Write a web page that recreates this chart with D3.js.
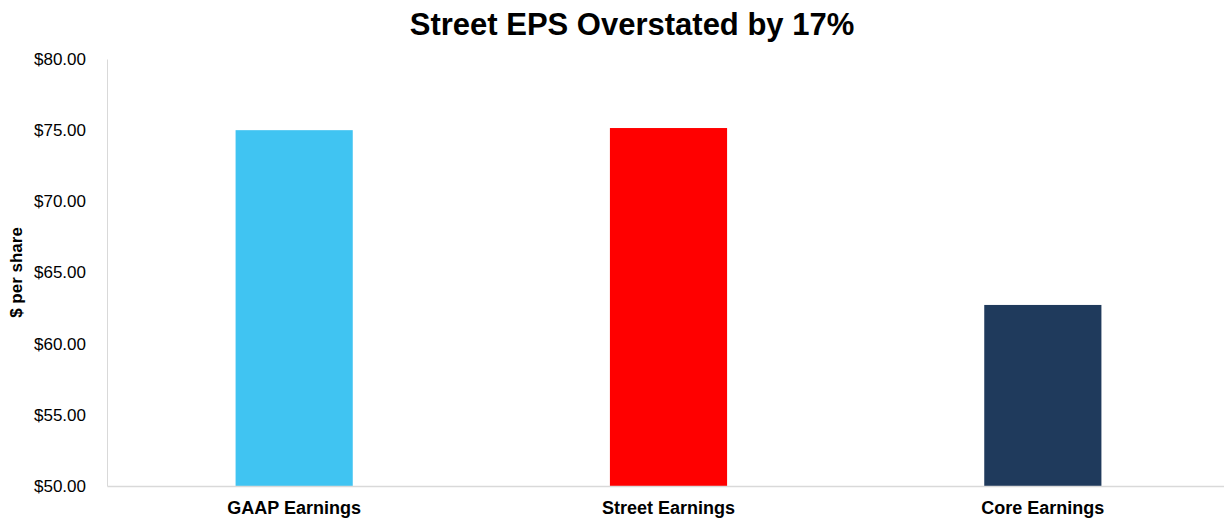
<!DOCTYPE html>
<html>
<head>
<meta charset="utf-8">
<script src="https://cdn.jsdelivr.net/npm/d3@7/dist/d3.min.js"></script>
<style>
  html, body { margin: 0; padding: 0; background: #fff; }
  svg { display: block; font-family: "Liberation Sans", Arial, sans-serif; }
</style>
</head>
<body>
<svg id="chart" width="1224" height="520"></svg>
<script>
// Earnings per share by measure
const categories = ["GAAP Earnings", "Street Earnings", "Core Earnings"];
const eps = [75.00, 75.15, 62.72];
const barColors = ["#40C4F2", "#FF0000", "#1F3A5C"];
const yTicks = [50, 55, 60, 65, 70, 75, 80];

const svg = d3.select("#chart");
const W = 1224, H = 520;
const margin = { left: 107, right: -6, top: 59, bottom: 34 };

const x = d3.scaleBand()
  .domain(categories)
  .range([margin.left, W - margin.right])
  .paddingInner(0.687)
  .paddingOuter(0.3435);

const y = d3.scaleLinear()
  .domain([50, 80])
  .range([H - margin.bottom, margin.top]);

// Title
svg.append("text")
  .attr("x", 632)
  .attr("y", 35)
  .attr("text-anchor", "middle")
  .attr("font-size", 31)
  .attr("font-weight", "bold")
  .attr("fill", "#000")
  .text("Street EPS Overstated by 17%");

// Bars
svg.append("g").selectAll("rect")
  .data(categories)
  .join("rect")
  .attr("x", d => x(d))
  .attr("width", x.bandwidth())
  .attr("y", (d, i) => y(eps[i]))
  .attr("height", (d, i) => y(50) - y(eps[i]))
  .attr("fill", (d, i) => barColors[i]);

// Y axis
const yAxis = svg.append("g")
  .attr("transform", `translate(${margin.left},0)`)
  .call(d3.axisLeft(y).tickValues(yTicks).tickSize(0).tickPadding(21)
    .tickFormat(d => "$" + d3.format(".2f")(d)));
yAxis.select(".domain").attr("stroke", "#D9D9D9").attr("stroke-width", 1);
yAxis.selectAll("text")
  .attr("font-size", 17)
  .attr("fill", "#000")
  .attr("font-family", "Liberation Sans, Arial, sans-serif");

// X axis
const xAxis = svg.append("g")
  .attr("transform", `translate(0,${y(50)})`)
  .call(d3.axisBottom(x).tickSize(0).tickPadding(15));
xAxis.select(".domain").attr("stroke", "#D9D9D9").attr("stroke-width", 1.5);
xAxis.selectAll("text")
  .attr("font-size", 18)
  .attr("font-weight", "bold")
  .attr("fill", "#000")
  .attr("font-family", "Liberation Sans, Arial, sans-serif");

// Y axis title
svg.append("text")
  .attr("transform", `translate(22,${(y(50) + y(80)) / 2}) rotate(-90)`)
  .attr("text-anchor", "middle")
  .attr("font-size", 17)
  .attr("font-weight", "bold")
  .attr("fill", "#000")
  .text("$ per share");
</script>
</body>
</html>
